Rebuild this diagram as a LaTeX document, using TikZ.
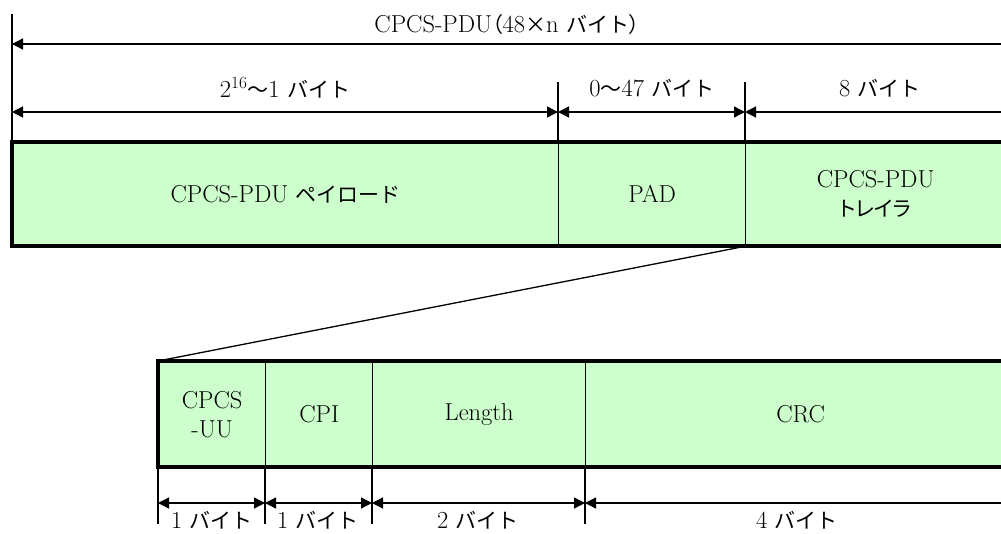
\documentclass[tikz,border=0pt]{standalone}
\usepackage{fontspec}
\newfontfamily\jpf{Noto Sans CJK JP}
\newfontfamily\jppf[RawFeature=+palt]{Noto Sans CJK JP}
\newcommand{\jp}{\jpf\fontsize{21}{28}\selectfont}
\newcommand{\jpp}{\jppf\fontsize{21}{28}\selectfont}
\usetikzlibrary{arrows.meta}
\definecolor{cellgreen}{HTML}{CCFFCC}
\begin{document}
\begin{tikzpicture}[x=1pt,y=-1pt,
  cell/.style={draw=black, line width=1.3pt, fill=cellgreen, inner sep=0pt,
    anchor=north west, align=center, font=\fontsize{24.5}{31}\selectfont},
  border/.style={line width=4pt, line cap=rect},
  thin/.style={line width=1.3pt},
  tip/.tip={Triangle[length=11pt,width=11pt]},
  dim/.style={thin, tip-tip},
  dimleft/.style={thin, tip-},
  lbl/.style={inner sep=0pt, font=\fontsize{24.5}{28}\selectfont}
]
\path[use as bounding box] (0,0) rectangle (1001,533);
\clip (0,0) rectangle (1001,533);

% top row
\node[cell, minimum width=546pt, minimum height=103pt] (pay) at (12,142) {CPCS-PDU {\jp ペイロード}};
\node[cell, minimum width=187pt, minimum height=103pt] (pad) at (558,142) {PAD};
\node[cell, minimum width=260pt, minimum height=103pt] (trl) at (745,142) {CPCS-PDU\\[-2pt]{\jpp トレイラ}};
\draw[border] (trl.north east) -- (pay.north west) -- (pay.south west) -- (trl.south east);

% bottom row
\node[cell, minimum width=107pt, minimum height=105pt] (uu) at (158,361) {CPCS\\[-2pt]-UU};
\node[cell, minimum width=107pt, minimum height=105pt] (cpi) at (265,361) {CPI};
\node[cell, minimum width=213pt, minimum height=105pt] (len) at (372,361) {Length};
\node[cell, minimum width=430pt, minimum height=105pt] (crc) at (585,361) {CRC};
\draw[border] (crc.north east) -- (uu.north west) -- (uu.south west) -- (crc.south east);

% zoom line
\draw[thin] (trl.south west) -- (uu.north west);

% top dimension lines
\coordinate (t0) at (12,14);
\coordinate (t1) at (558,82);
\coordinate (t2) at (745,82);
\draw[thin] (t0) -- (pay.north west);
\draw[thin] (t1) -- (pad.north west);
\draw[thin] (t2) -- (trl.north west);

\coordinate (a0) at (12,44);
\coordinate (a0e) at (1015,44);
\draw[dimleft] (a0) -- (a0e);
\node[lbl] (lblall) at (507,25) {CPCS-PDU{\jpp （}48{\jp ×}n {\jp バイト}{\jpp ）}};

\coordinate (b0) at (12,112);
\coordinate (b1) at (558,112);
\coordinate (b2) at (745,112);
\coordinate (b3) at (1015,112);
\draw[dim] (b0) -- (b1);
\draw[dim] (b1) -- (b2);
\draw[dimleft] (b2) -- (b3);
\node[lbl] (lpay) at (285,88) {2\textsuperscript{16}{\jp ～}1 {\jp バイト}};
\node[lbl] (lpad) at (652,88) {0{\jp ～}47 {\jp バイト}};
\node[lbl] (ltrl) at (880,88) {8 {\jp バイト}};

% bottom dimension lines
\coordinate (c0) at (158,524);
\coordinate (c1) at (265,524);
\coordinate (c2) at (372,524);
\coordinate (c3) at (585,524);
\draw[thin] (uu.south west) -- (c0);
\draw[thin] (cpi.south west) -- (c1);
\draw[thin] (len.south west) -- (c2);
\draw[thin] (crc.south west) -- (c3);

\coordinate (d0) at (158,503);
\coordinate (d1) at (265,503);
\coordinate (d2) at (372,503);
\coordinate (d3) at (585,503);
\coordinate (d4) at (1015,503);
\draw[dim] (d0) -- (d1);
\draw[dim] (d1) -- (d2);
\draw[dim] (d2) -- (d3);
\draw[dimleft] (d3) -- (d4);
\node[lbl] (luu) at (212,520) {1 {\jp バイト}};
\node[lbl] (lcpi) at (318,520) {1 {\jp バイト}};
\node[lbl] (llen) at (478,520) {2 {\jp バイト}};
\node[lbl] (lcrc) at (797,520) {4 {\jp バイト}};
\end{tikzpicture}
\end{document}
